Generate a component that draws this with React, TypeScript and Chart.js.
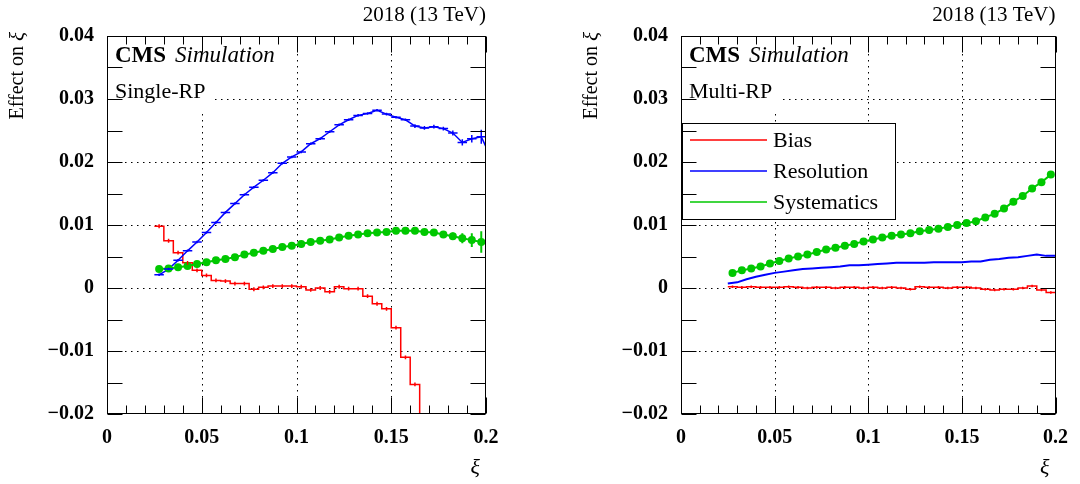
import React, { useEffect, useRef } from "react";
import { Chart, registerables } from "chart.js";

Chart.register(...registerables);

const FONT = "'Liberation Serif', 'DejaVu Serif', serif";
const RED = "#ff0000";
const BLUE = "#0000ff";
const GREEN = "#00c800";

// ---- data ----
const binCenters = [
  0.0275, 0.0325, 0.0375, 0.0425, 0.0475, 0.0525, 0.0575, 0.0625, 0.0675, 0.0725,
  0.0775, 0.0825, 0.0875, 0.0925, 0.0975, 0.1025, 0.1075, 0.1125, 0.1175, 0.1225,
  0.1275, 0.1325, 0.1375, 0.1425, 0.1475, 0.1525, 0.1575, 0.1625, 0.1675, 0.1725,
  0.1775, 0.1825, 0.1875, 0.1925, 0.1975,
];
const binHalfWidth = 0.0025;

// Single-RP
const singleBias = [
  0.0098, 0.0075, 0.0056, 0.0040, 0.0028, 0.0020, 0.0012, 0.0011, 0.0007, 0.0007,
  -0.0002, 0.0001, 0.0003, 0.0003, 0.0003, 0.0002, -0.0003, 0.0000, -0.0006, 0.0002,
  -0.0001, -0.0001, -0.0013, -0.0025, -0.0033, -0.0063, -0.0110, -0.0153, -0.0240, -0.0300,
  -0.0350, -0.0400, -0.0450, -0.0500, -0.0550,
];
const singleBiasErr = 0.0003;
const singleResolution = [
  0.0021, 0.0030, 0.0044, 0.0059, 0.0073, 0.0088, 0.0104, 0.0120, 0.0134, 0.0148,
  0.0160, 0.0171, 0.0183, 0.0198, 0.0208, 0.0216, 0.0229, 0.0237, 0.0248, 0.0259,
  0.0267, 0.0274, 0.0277, 0.0282, 0.0276, 0.0271, 0.0267, 0.0257, 0.0254, 0.0256,
  0.0253, 0.0246, 0.0231, 0.0237, 0.0240,
];
const singleResolutionOverflowX = 0.2025;
const singleResolutionOverflowY = 0.0208;
const singleResolutionErr = [
  0.0002, 0.0002, 0.0002, 0.0002, 0.0002, 0.0002, 0.0002, 0.0002, 0.0002, 0.0002,
  0.0002, 0.0002, 0.0002, 0.0002, 0.0002, 0.0002, 0.0002, 0.0002, 0.0002, 0.0002,
  0.0002, 0.0002, 0.0002, 0.0002, 0.0002, 0.0002, 0.0002, 0.0003, 0.0003, 0.0003,
  0.0003, 0.0004, 0.0005, 0.0006, 0.0011,
];
const singleSystematics = [
  0.0030, 0.0031, 0.0033, 0.0035, 0.0038, 0.0041, 0.0044, 0.0046, 0.0049, 0.0053,
  0.0056, 0.0059, 0.0062, 0.0065, 0.0067, 0.0070, 0.0073, 0.0075, 0.0077, 0.0080,
  0.0083, 0.0085, 0.0087, 0.0088, 0.0089, 0.0091, 0.0091, 0.0091, 0.0089, 0.0088,
  0.0085, 0.0082, 0.0079, 0.0076, 0.0073,
];
const singleSystematicsErr = [
  0.0002, 0.0002, 0.0002, 0.0002, 0.0002, 0.0002, 0.0002, 0.0002, 0.0002, 0.0002,
  0.0002, 0.0002, 0.0002, 0.0002, 0.0002, 0.0002, 0.0002, 0.0002, 0.0002, 0.0002,
  0.0002, 0.0002, 0.0002, 0.0002, 0.0002, 0.0002, 0.0002, 0.0002, 0.0003, 0.0004,
  0.0005, 0.0006, 0.0008, 0.0011, 0.0017,
];

// Multi-RP
const multiBias = [
  0.0002, 0.0001, 0.0002, 0.0001, 0.0001, 0.0001, 0.0002, 0.0001, 0.0000, 0.0001,
  0.0001, 0.0000, 0.0001, 0.0001, 0.0000, 0.0001, 0.0000, 0.0001, 0.0000, -0.0002,
  0.0002, 0.0001, 0.0001, 0.0000, 0.0001, 0.0001, 0.0000, -0.0002, -0.0003, -0.0002,
  -0.0002, 0.0000, 0.0003, -0.0003, -0.0007,
];
const multiBiasErr = 0.0002;
const multiResolutionX = [
  0.025, 0.030, 0.035, 0.040, 0.045, 0.050, 0.055, 0.060, 0.065, 0.070,
  0.075, 0.080, 0.085, 0.090, 0.095, 0.100, 0.105, 0.110, 0.115, 0.120,
  0.125, 0.130, 0.135, 0.140, 0.145, 0.150, 0.155, 0.160, 0.165, 0.170,
  0.175, 0.180, 0.185, 0.190, 0.195, 0.200,
];
const multiResolution = [
  0.0007, 0.0009, 0.0014, 0.0018, 0.0021, 0.0024, 0.0026, 0.0028, 0.0030, 0.0031,
  0.0032, 0.0033, 0.0034, 0.0036, 0.0036, 0.0037, 0.0038, 0.0039, 0.0040, 0.0040,
  0.0040, 0.0040, 0.0041, 0.0041, 0.0041, 0.0041, 0.0042, 0.0042, 0.0045, 0.0046,
  0.0048, 0.0049, 0.0051, 0.0053, 0.0051, 0.0051,
];
const multiSystematics = [
  0.0024, 0.0028, 0.0031, 0.0034, 0.0039, 0.0043, 0.0047, 0.0050, 0.0053, 0.0057,
  0.0061, 0.0064, 0.0067, 0.0070, 0.0074, 0.0077, 0.0080, 0.0083, 0.0085, 0.0087,
  0.0090, 0.0092, 0.0094, 0.0097, 0.0100, 0.0103, 0.0106, 0.0112, 0.0118, 0.0126,
  0.0137, 0.0146, 0.0158, 0.0168, 0.0180,
];
const multiSystematicsErr = [
  0.0002, 0.0002, 0.0002, 0.0002, 0.0002, 0.0002, 0.0002, 0.0002, 0.0002, 0.0002,
  0.0002, 0.0002, 0.0002, 0.0002, 0.0002, 0.0002, 0.0002, 0.0002, 0.0002, 0.0002,
  0.0002, 0.0002, 0.0002, 0.0002, 0.0002, 0.0002, 0.0002, 0.0002, 0.0002, 0.0003,
  0.0003, 0.0003, 0.0003, 0.0004, 0.0004,
];

// axes
const xMin = 0;
const xMax = 0.2;
const yMin = -0.02;
const yMax = 0.04;
const gridX = [0.05, 0.1, 0.15];
const gridY = [-0.01, 0, 0.01, 0.02, 0.03];
const legendLabels = ["Bias", "Resolution", "Systematics"];
const headerText = "2018 (13 TeV)";
const yTitleText = "Effect on ";
const xiSymbol = "\u03be";

const fmtTick = (v: number) => {
  const r = Math.round(v * 1000) / 1000;
  if (Math.abs(r) < 1e-9) return "0";
  return (r < 0 ? "\u2212" : "") + String(Math.abs(r));
};

function histSteps(values: number[]) {
  const pts = values.map((v, i) => ({ x: binCenters[i] - binHalfWidth, y: v }));
  pts.push({ x: binCenters[values.length - 1] + binHalfWidth, y: values[values.length - 1] });
  return pts;
}

function rootPlugin(label: string, showLegend: boolean) {
  return {
    id: "rootStyle",
    beforeDatasetsDraw(chart: any) {
      const { ctx, chartArea: a } = chart;
      const xs = chart.scales.x;
      const ys = chart.scales.y;
      ctx.save();
      ctx.strokeStyle = "#000";
      ctx.lineWidth = 1;
      ctx.setLineDash([1.5, 4.5]);
      ctx.beginPath();
      for (const v of gridX) {
        const p = Math.round(xs.getPixelForValue(v)) + 0.5;
        ctx.moveTo(p, a.top);
        ctx.lineTo(p, a.bottom);
      }
      for (const v of gridY) {
        const p = Math.round(ys.getPixelForValue(v)) + 0.5;
        ctx.moveTo(a.left, p);
        ctx.lineTo(a.right, p);
      }
      ctx.stroke();
      ctx.restore();
    },
    afterDatasetsDraw(chart: any) {
      const { ctx, chartArea: a } = chart;
      const xs = chart.scales.x;
      const ys = chart.scales.y;

      // error bars
      ctx.save();
      ctx.beginPath();
      ctx.rect(a.left, a.top, a.right - a.left, a.bottom - a.top);
      ctx.clip();
      chart.data.datasets.forEach((ds: any) => {
        const eb = ds.errorBars;
        if (!eb) return;
        ctx.strokeStyle = ds.borderColor;
        ctx.lineWidth = eb.lineWidth;
        ctx.beginPath();
        eb.x.forEach((xv: number, i: number) => {
          const yv = eb.y[i];
          const e = Array.isArray(eb.ey) ? eb.ey[i] : eb.ey;
          const px = xs.getPixelForValue(xv);
          ctx.moveTo(px, ys.getPixelForValue(yv + e));
          ctx.lineTo(px, ys.getPixelForValue(yv - e));
          if (eb.ex) {
            const py = ys.getPixelForValue(yv);
            ctx.moveTo(xs.getPixelForValue(xv - eb.ex), py);
            ctx.lineTo(xs.getPixelForValue(xv + eb.ex), py);
          }
        });
        ctx.stroke();
      });
      ctx.restore();

      ctx.save();
      // text box
      ctx.font = `22px ${FONT}`;
      const lw = ctx.measureText(label).width;
      ctx.fillStyle = "#fff";
      ctx.fillRect(a.left + 1, a.top + 1, lw + 14, 76);
      ctx.fillStyle = "#000";
      ctx.textAlign = "left";
      ctx.textBaseline = "alphabetic";
      ctx.fillText(label, a.left + 8, a.top + 62);
      ctx.font = `bold 23px ${FONT}`;
      ctx.fillText("CMS", a.left + 8, a.top + 26);
      const cw = ctx.measureText("CMS").width;
      ctx.font = `italic 23px ${FONT}`;
      ctx.fillText("Simulation", a.left + 8 + cw + 9, a.top + 26);

      // legend
      if (showLegend) {
        const lx = a.left + 1;
        const ly = a.top + 87;
        ctx.fillStyle = "#fff";
        ctx.fillRect(lx, ly, 213, 96);
        ctx.strokeStyle = "#000";
        ctx.lineWidth = 1;
        ctx.strokeRect(lx + 0.5, ly + 0.5, 213, 96);
        legendLabels.forEach((lab, i) => {
          const ds = chart.data.datasets.find((d: any) => d.label === lab);
          const cy = ly + 17 + i * 31;
          ctx.strokeStyle = ds.borderColor;
          ctx.lineWidth = 1.5;
          ctx.beginPath();
          ctx.moveTo(a.left + 9, cy);
          ctx.lineTo(a.left + 86, cy);
          ctx.stroke();
          ctx.fillStyle = "#000";
          ctx.font = `22px ${FONT}`;
          ctx.textBaseline = "middle";
          ctx.fillText(lab, a.left + 92, cy + 1);
        });
      }

      // frame + ticks
      ctx.strokeStyle = "#000";
      ctx.lineWidth = 1;
      ctx.setLineDash([]);
      const L = Math.round(a.left) + 0.5;
      const R = Math.round(a.right) - 0.5;
      const T = Math.round(a.top) + 0.5;
      const B = Math.round(a.bottom) - 0.5;
      ctx.strokeRect(L, T, R - L, B - T);
      ctx.beginPath();
      for (let k = 0; k <= 20; k++) {
        const v = k / 100;
        const p = Math.round(xs.getPixelForValue(v)) + 0.5;
        const len = k % 5 === 0 ? 16 : 8;
        ctx.moveTo(p, B);
        ctx.lineTo(p, B - len);
        ctx.moveTo(p, T);
        ctx.lineTo(p, T + len);
      }
      for (let k = -4; k <= 8; k++) {
        const v = k * 0.005;
        const p = Math.round(ys.getPixelForValue(v)) + 0.5;
        ctx.moveTo(L, p);
        ctx.lineTo(L + 15, p);
        ctx.moveTo(R, p);
        ctx.lineTo(R - 15, p);
      }
      ctx.stroke();

      // header & titles
      ctx.fillStyle = "#000";
      ctx.font = `21px ${FONT}`;
      ctx.textAlign = "right";
      ctx.textBaseline = "alphabetic";
      ctx.fillText(headerText, a.right, 21);
      ctx.font = `italic 22px ${FONT}`;
      ctx.fillText(xiSymbol, a.right - 6, 474);

      ctx.save();
      ctx.translate(a.left - 89, 32);
      ctx.rotate(-Math.PI / 2);
      ctx.textBaseline = "middle";
      ctx.textAlign = "right";
      ctx.font = `italic 21px ${FONT}`;
      const xiW = ctx.measureText(xiSymbol).width;
      ctx.fillText(xiSymbol, 0, 0);
      ctx.font = `20px ${FONT}`;
      ctx.fillText(yTitleText, -xiW, 0);
      ctx.restore();
      ctx.restore();
    },
  };
}

type PanelCfg = {
  label: string;
  axisWidth: number;
  padRight: number;
  showLegend: boolean;
  datasets: any[];
};

function buildConfig(p: PanelCfg): any {
  const tickFont = { family: FONT, size: 20, weight: "bold" as const };
  return {
    type: "line",
    data: { datasets: p.datasets },
    options: {
      responsive: false,
      animation: false,
      layout: { padding: { left: 0, right: p.padRight, top: 36, bottom: 0 } },
      plugins: { legend: { display: false }, tooltip: { enabled: false } },
      elements: { line: { tension: 0 } },
      scales: {
        x: {
          type: "linear",
          min: xMin,
          max: xMax,
          grid: { display: false, drawTicks: false, tickLength: 0 },
          border: { display: false },
          ticks: {
            stepSize: 0.05,
            callback: (v: number) => fmtTick(v),
            font: tickFont,
            color: "#000",
            padding: 12,
            maxRotation: 0,
            autoSkip: false,
          },
          afterFit: (s: any) => {
            s.height = 70;
          },
        },
        y: {
          type: "linear",
          min: yMin,
          max: yMax,
          grid: { display: false, drawTicks: false, tickLength: 0 },
          border: { display: false },
          ticks: {
            stepSize: 0.01,
            callback: (v: number) => fmtTick(v),
            font: tickFont,
            color: "#000",
            padding: 13,
            autoSkip: false,
          },
          afterFit: (s: any) => {
            s.width = p.axisWidth;
          },
        },
      },
    },
    plugins: [rootPlugin(p.label, p.showLegend)],
  };
}

const xy = (xsArr: number[], ysArr: number[]) => ysArr.map((y, i) => ({ x: xsArr[i], y }));

const leftPanel: PanelCfg = {
  label: "Single-RP",
  axisWidth: 107,
  padRight: 54,
  showLegend: false,
  datasets: [
    {
      label: "Systematics",
      data: xy(binCenters, singleSystematics),
      borderColor: GREEN,
      backgroundColor: GREEN,
      borderWidth: 2,
      pointRadius: 4,
      pointBorderWidth: 0,
      pointBackgroundColor: GREEN,
      errorBars: { x: binCenters, y: singleSystematics, ey: singleSystematicsErr, lineWidth: 2 },
    },
    {
      label: "Resolution",
      data: [...xy(binCenters, singleResolution), { x: singleResolutionOverflowX, y: singleResolutionOverflowY }],
      borderColor: BLUE,
      backgroundColor: BLUE,
      borderWidth: 1.5,
      pointRadius: 0,
      errorBars: { x: binCenters, y: singleResolution, ey: singleResolutionErr, ex: binHalfWidth, lineWidth: 1.5 },
    },
    {
      label: "Bias",
      data: histSteps(singleBias),
      stepped: true,
      borderColor: RED,
      backgroundColor: RED,
      borderWidth: 1.5,
      pointRadius: 0,
      errorBars: { x: binCenters, y: singleBias, ey: singleBiasErr, lineWidth: 1.5 },
    },
  ],
};

const rightPanel: PanelCfg = {
  label: "Multi-RP",
  axisWidth: 141,
  padRight: 20,
  showLegend: true,
  datasets: [
    {
      label: "Systematics",
      data: xy(binCenters, multiSystematics),
      borderColor: GREEN,
      backgroundColor: GREEN,
      borderWidth: 2,
      pointRadius: 4,
      pointBorderWidth: 0,
      pointBackgroundColor: GREEN,
      errorBars: { x: binCenters, y: multiSystematics, ey: multiSystematicsErr, lineWidth: 2 },
    },
    {
      label: "Resolution",
      data: xy(multiResolutionX, multiResolution),
      borderColor: BLUE,
      backgroundColor: BLUE,
      borderWidth: 2,
      pointRadius: 0,
    },
    {
      label: "Bias",
      data: histSteps(multiBias),
      stepped: true,
      borderColor: RED,
      backgroundColor: RED,
      borderWidth: 1.5,
      pointRadius: 0,
      errorBars: { x: binCenters, y: multiBias, ey: multiBiasErr, lineWidth: 1.5 },
    },
  ],
};

function ChartPanel({ cfg, left }: { cfg: PanelCfg; left: number }) {
  const ref = useRef<HTMLCanvasElement>(null);
  useEffect(() => {
    const chart = new Chart(ref.current as HTMLCanvasElement, buildConfig(cfg));
    return () => chart.destroy();
  }, [cfg]);
  return (
    <canvas
      ref={ref}
      width={540}
      height={484}
      style={{ position: "absolute", left, top: 0, width: 540, height: 484 }}
    />
  );
}

export default function App() {
  return (
    <div style={{ position: "fixed", left: 0, top: 0, width: 1080, height: 484, background: "#fff" }}>
      <ChartPanel cfg={leftPanel} left={0} />
      <ChartPanel cfg={rightPanel} left={540} />
    </div>
  );
}
